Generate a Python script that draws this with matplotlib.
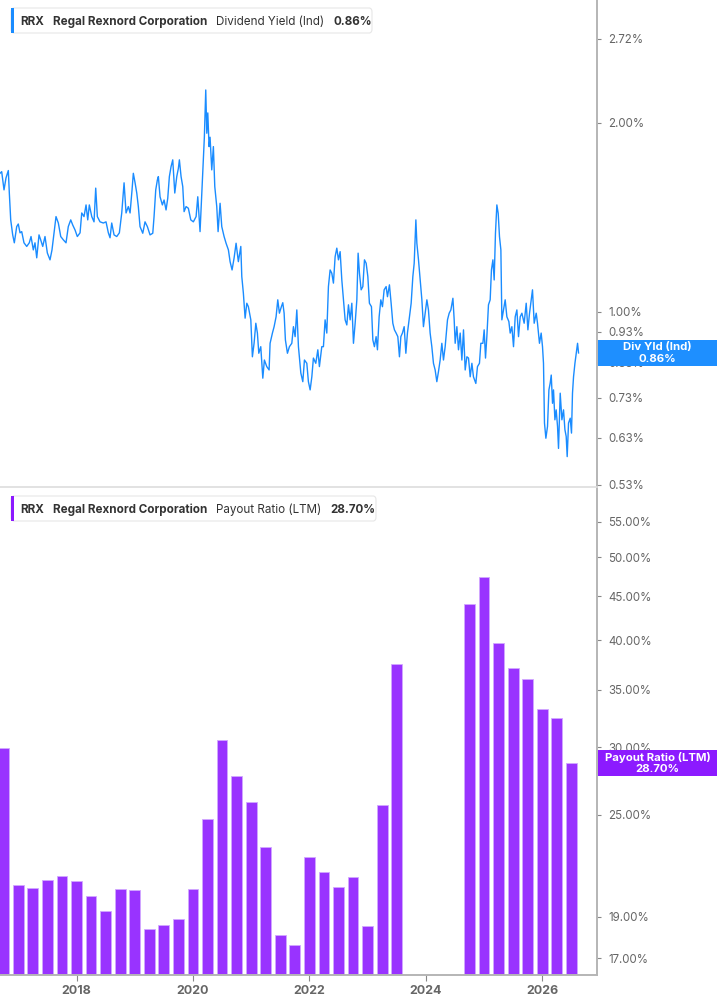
import matplotlib
matplotlib.use('Agg')
import matplotlib.pyplot as plt
from matplotlib.patches import Rectangle, FancyBboxPatch
from matplotlib.text import Annotation
from matplotlib.ticker import FixedLocator, NullLocator

plt.rcParams['font.family'] = ['Inter', 'DejaVu Sans']

# Dividend yield (Ind), %, decimal years
div_years = [
    2016.686, 2016.715, 2016.755, 2016.789, 2016.829, 2016.846, 2016.870, 2016.904, 2016.932, 2016.973,
    2017.000, 2017.030, 2017.059, 2017.098, 2017.145, 2017.189, 2017.219, 2017.258, 2017.287, 2017.317,
    2017.356, 2017.385, 2017.420, 2017.459, 2017.499, 2017.545, 2017.579, 2017.614, 2017.648, 2017.688,
    2017.729, 2017.774, 2017.820, 2017.859, 2017.901, 2017.935, 2017.975, 2018.014, 2018.061, 2018.090,
    2018.129, 2018.164, 2018.193, 2018.220, 2018.262, 2018.301, 2018.330, 2018.358, 2018.404, 2018.461,
    2018.507, 2018.547, 2018.576, 2018.605, 2018.645, 2018.691, 2018.736, 2018.777, 2018.817, 2018.851,
    2018.890, 2018.920, 2018.954, 2018.976, 2019.006, 2019.035, 2019.062, 2019.091, 2019.138, 2019.177,
    2019.217, 2019.263, 2019.310, 2019.332, 2019.361, 2019.389, 2019.406, 2019.435, 2019.475, 2019.504,
    2019.538, 2019.567, 2019.595, 2019.624, 2019.653, 2019.688, 2019.722, 2019.750, 2019.767, 2019.796,
    2019.825, 2019.848, 2019.882, 2019.921, 2019.963, 2020.007, 2020.054, 2020.083, 2020.122, 2020.152,
    2020.179, 2020.196, 2020.220, 2020.238, 2020.255, 2020.277, 2020.294, 2020.323, 2020.351, 2020.375,
    2020.409, 2020.432, 2020.466, 2020.495, 2020.535, 2020.569, 2020.609, 2020.638, 2020.672, 2020.706,
    2020.741, 2020.780, 2020.822, 2020.839, 2020.866, 2020.896, 2020.925, 2020.952, 2020.994, 2021.021,
    2021.050, 2021.080, 2021.107, 2021.131, 2021.165, 2021.200, 2021.227, 2021.268, 2021.308, 2021.325,
    2021.365, 2021.394, 2021.428, 2021.457, 2021.485, 2021.519, 2021.543, 2021.566, 2021.588, 2021.623,
    2021.657, 2021.698, 2021.726, 2021.755, 2021.784, 2021.812, 2021.853, 2021.887, 2021.915, 2021.956,
    2021.983, 2022.013, 2022.042, 2022.069, 2022.110, 2022.145, 2022.172, 2022.213, 2022.241, 2022.270,
    2022.299, 2022.327, 2022.356, 2022.385, 2022.413, 2022.442, 2022.471, 2022.499, 2022.528, 2022.557,
    2022.585, 2022.614, 2022.643, 2022.671, 2022.700, 2022.729, 2022.757, 2022.786, 2022.815, 2022.837,
    2022.860, 2022.889, 2022.918, 2022.946, 2022.975, 2023.004, 2023.031, 2023.066, 2023.090, 2023.117,
    2023.146, 2023.169, 2023.198, 2023.227, 2023.255, 2023.284, 2023.318, 2023.341, 2023.375, 2023.404,
    2023.433, 2023.461, 2023.490, 2023.519, 2023.547, 2023.571, 2023.598, 2023.628, 2023.657, 2023.684,
    2023.719, 2023.748, 2023.777, 2023.800, 2023.829, 2023.846, 2023.874, 2023.903, 2023.932, 2023.959,
    2023.988, 2024.018, 2024.045, 2024.074, 2024.103, 2024.131, 2024.160, 2024.189, 2024.217, 2024.246,
    2024.275, 2024.303, 2024.332, 2024.372, 2024.401, 2024.430, 2024.465, 2024.487, 2024.504, 2024.533,
    2024.561, 2024.590, 2024.619, 2024.647, 2024.676, 2024.705, 2024.733, 2024.762, 2024.791, 2024.818,
    2024.859, 2024.887, 2024.921, 2024.945, 2024.980, 2025.002, 2025.025, 2025.048, 2025.076, 2025.105,
    2025.127, 2025.152, 2025.174, 2025.196, 2025.220, 2025.243, 2025.265, 2025.289, 2025.306, 2025.334,
    2025.363, 2025.392, 2025.426, 2025.449, 2025.478, 2025.506, 2025.535, 2025.564, 2025.592, 2025.621,
    2025.650, 2025.689, 2025.724, 2025.753, 2025.781, 2025.810, 2025.832, 2025.861, 2025.896, 2025.918,
    2025.952, 2025.981, 2026.004, 2026.021, 2026.038, 2026.062, 2026.090, 2026.114, 2026.136, 2026.154,
    2026.176, 2026.193, 2026.217, 2026.239, 2026.262, 2026.279, 2026.308, 2026.337, 2026.365, 2026.389,
    2026.411, 2026.428, 2026.451, 2026.480, 2026.502, 2026.519, 2026.537, 2026.561, 2026.583, 2026.606,
    2026.623,
]
div_yield = [
    1.662, 1.672, 1.564, 1.634, 1.679, 1.547, 1.401, 1.326, 1.288, 1.367,
    1.380, 1.336, 1.342, 1.288, 1.271, 1.288, 1.318, 1.255, 1.288, 1.219,
    1.326, 1.302, 1.271, 1.318, 1.241, 1.210, 1.255, 1.336, 1.418, 1.385,
    1.318, 1.302, 1.288, 1.367, 1.401, 1.375, 1.350, 1.318, 1.336, 1.437,
    1.418, 1.480, 1.401, 1.480, 1.418, 1.391, 1.574, 1.418, 1.391, 1.385,
    1.391, 1.336, 1.312, 1.385, 1.326, 1.318, 1.336, 1.437, 1.605, 1.437,
    1.471, 1.437, 1.564, 1.662, 1.605, 1.546, 1.471, 1.367, 1.334, 1.391,
    1.367, 1.326, 1.334, 1.418, 1.564, 1.622, 1.642, 1.525, 1.480, 1.507,
    1.453, 1.516, 1.642, 1.703, 1.746, 1.546, 1.642, 1.693, 1.746, 1.642,
    1.583, 1.444, 1.471, 1.462, 1.401, 1.391, 1.418, 1.525, 1.342, 1.546,
    1.767, 1.897, 2.256, 1.925, 2.074, 1.833, 1.897, 1.683, 1.833, 1.583,
    1.471, 1.342, 1.489, 1.367, 1.318, 1.286, 1.255, 1.202, 1.166, 1.217,
    1.286, 1.202, 1.271, 1.138, 1.071, 0.977, 1.032, 1.019, 0.971, 0.848,
    0.891, 0.959, 0.925, 0.859, 0.880, 0.784, 0.838, 0.818, 0.808, 0.891,
    0.925, 0.947, 0.982, 1.045, 0.995, 1.019, 1.034, 0.995, 0.902, 0.859,
    0.880, 0.891, 0.947, 0.913, 1.007, 0.880, 0.799, 0.774, 0.838, 0.828,
    0.774, 0.751, 0.788, 0.844, 0.828, 0.870, 0.818, 0.880, 0.880, 0.971,
    0.925, 1.097, 1.166, 1.152, 1.111, 1.224, 1.263, 1.210, 1.247, 1.124,
    1.045, 0.971, 0.953, 1.026, 0.971, 1.032, 0.891, 0.959, 1.045, 1.240,
    1.152, 1.084, 1.097, 1.210, 1.195, 1.138, 1.032, 1.019, 0.902, 0.880,
    0.913, 0.870, 0.982, 1.045, 1.019, 1.084, 1.097, 1.057, 1.104, 1.032,
    0.959, 0.936, 0.925, 0.913, 0.848, 0.913, 0.925, 0.947, 0.859, 0.925,
    0.982, 1.032, 1.138, 1.195, 1.401, 1.286, 1.210, 1.124, 1.045, 0.947,
    0.995, 1.045, 1.007, 0.925, 0.880, 0.828, 0.808, 0.774, 0.803, 0.838,
    0.891, 0.838, 0.880, 0.971, 0.995, 1.007, 1.051, 0.971, 0.891, 0.947,
    0.870, 0.925, 0.838, 0.936, 0.808, 0.848, 0.844, 0.788, 0.828, 0.788,
    0.769, 0.818, 0.828, 0.891, 0.891, 0.936, 0.844, 0.913, 1.026, 1.045,
    1.166, 1.210, 1.124, 1.334, 1.480, 1.435, 1.318, 1.255, 0.971, 1.007,
    1.045, 0.982, 0.965, 0.925, 0.947, 0.880, 0.982, 1.007, 0.913, 0.982,
    0.995, 0.959, 1.032, 0.936, 0.995, 1.045, 1.084, 0.959, 0.995, 0.959,
    0.891, 0.925, 0.880, 0.828, 0.665, 0.629, 0.657, 0.751, 0.770, 0.793,
    0.715, 0.751, 0.673, 0.698, 0.657, 0.606, 0.742, 0.673, 0.698, 0.649,
    0.633, 0.588, 0.665, 0.677, 0.641, 0.742, 0.788, 0.828, 0.859, 0.891,
    0.860,
]

# Payout ratio (LTM), %, quarterly
payout_years = [
    2016.75, 2017.00, 2017.25, 2017.50, 2017.75, 2018.00, 2018.25, 2018.50, 2018.75, 2019.00,
    2019.25, 2019.50, 2019.75, 2020.00, 2020.25, 2020.50, 2020.75, 2021.00, 2021.25, 2021.50,
    2021.75, 2022.00, 2022.25, 2022.50, 2022.75, 2023.00, 2023.25, 2023.50,
    2024.75, 2025.00, 2025.25, 2025.50, 2025.75, 2026.00, 2026.25, 2026.50,
]
payout_ratio = [
    29.9, 20.7, 20.5, 21.0, 21.2, 20.9, 20.1, 19.3, 20.45, 20.4,
    18.4, 18.6, 18.9, 20.45, 24.7, 30.6, 27.75, 25.9, 22.9, 18.1,
    17.6, 22.3, 21.4, 20.6, 21.15, 18.55, 25.65, 37.5,
    44.1, 47.4, 39.7, 37.1, 36.0, 33.2, 32.4, 28.7,
]

year_ticks = [2018, 2020, 2022, 2024, 2026]
div_ticks = [0.53, 0.63, 0.73, 0.83, 0.93, 1.00, 2.00, 2.72]
payout_ticks = [17, 19, 25, 30, 35, 40, 45, 50, 55]

BLUE = '#1a8cff'
PURPLE = '#9933ff'
PURPLE_TAG = '#8c1aff'
TEXT = '#333333'
TICK = '#666666'
SPINE = '#b5b5b5'

W, H = 717, 1005
fig = plt.figure(figsize=(W / 100, H / 100), dpi=100)


def fx(px):
    return px / W


def fy(py):
    return 1 - py / H


ax1 = fig.add_axes([0, fy(487), fx(597), fy(0) - fy(487)])
ax2 = fig.add_axes([0, fy(975), fx(597), fy(489) - fy(975)])

for ax in (ax1, ax2):
    ax.set_xlim(2016.686, 2026.94)
    ax.set_yscale('log')
    ax.yaxis.tick_right()
    for s in ('left', 'top'):
        ax.spines[s].set_visible(False)
    ax.spines['right'].set_color(SPINE)
    ax.spines['right'].set_linewidth(1.4)
    ax.tick_params(axis='y', which='major', length=3, width=0.8, color='#888888',
                   labelsize=8.3, labelcolor=TICK, pad=5)
    ax.yaxis.set_minor_locator(NullLocator())

# dividend yield
ax1.plot(div_years, div_yield, color=BLUE, lw=1.0, solid_joinstyle='round')
ax1.set_ylim(0.526, 3.138)
ax1.yaxis.set_major_locator(FixedLocator(div_ticks))
ax1.set_yticklabels([f'{v:.2f}%' for v in div_ticks])
ax1.spines['bottom'].set_color('#dddddd')
ax1.spines['bottom'].set_linewidth(1.2)
ax1.set_xticks([])

# payout ratio
ax2.bar(payout_years, [v - 10 for v in payout_ratio], bottom=10, width=0.185,
        color=PURPLE, edgecolor='#d2a8ff', linewidth=0.6)
ax2.set_ylim(16.24, 60.08)
ax2.yaxis.set_major_locator(FixedLocator(payout_ticks))
ax2.set_yticklabels([f'{v:.2f}%' for v in payout_ticks])
ax2.spines['bottom'].set_color(SPINE)
ax2.spines['bottom'].set_linewidth(1.4)
ax2.set_xticks(year_ticks)
ax2.set_xticklabels([str(y) for y in year_ticks])
ax2.tick_params(axis='x', length=4, width=0.8, color='#888888', labelsize=9,
                labelcolor=TICK, pad=3)
for lab in ax2.get_xticklabels():
    lab.set_fontweight('bold')


def legend_row(y_top, y_bot, box_right, accent, metric, value):
    box = FancyBboxPatch((fx(11), fy(y_bot)), fx(box_right) - fx(11), fy(y_top) - fy(y_bot),
                         boxstyle='round,pad=0,rounding_size=0.004', transform=fig.transFigure,
                         facecolor='white', edgecolor='#e6e6e6', linewidth=0.8, zorder=5)
    fig.add_artist(box)
    fig.add_artist(Rectangle((fx(11), fy(y_bot)), fx(2.5), fy(y_top) - fy(y_bot),
                             transform=fig.transFigure, facecolor=accent, edgecolor='none', zorder=6))
    yc = fy((y_top + y_bot) / 2)
    fs = 8.4
    prev = fig.text(fx(20), yc, 'RRX', fontsize=fs, fontweight='bold', color=TEXT,
                    va='center_baseline', zorder=7)
    for txt, wt in [('Regal Rexnord Corporation', 'bold'), (metric, 'normal'), (value, 'bold')]:
        prev = fig.add_artist(Annotation(
            txt, xy=(1, 0), xycoords=prev, xytext=(6.5, 0), textcoords='offset points',
            va='bottom', ha='left', fontsize=fs, fontweight=wt, color=TEXT, zorder=7))


legend_row(8, 33, 372, BLUE, 'Dividend Yield (Ind)', '0.86%')
legend_row(496, 521, 376, PURPLE_TAG, 'Payout Ratio (LTM)', '28.70%')


def value_tag(ax, value, label, color, height_px=26):
    # last-value box on the right axis, centred at the value's position
    disp = ax.transData.transform((ax.get_xlim()[1], value))
    yc = fig.transFigure.inverted().transform(disp)[1]
    h = height_px / H
    fig.add_artist(Rectangle((fx(597.5), yc - h / 2), 1 - fx(597.5), h, transform=fig.transFigure,
                             facecolor=color, edgecolor='none', zorder=8))
    xc = fx(657.5)
    fig.text(xc, yc + h * 0.22, label, ha='center', va='center', fontsize=8.2,
             fontweight='bold', color='white', zorder=9)
    fig.text(xc, yc - h * 0.22, f'{value:.2f}%', ha='center', va='center', fontsize=8.2,
             fontweight='bold', color='white', zorder=9)


value_tag(ax1, div_yield[-1], 'Div Yld (Ind)', '#1e8fff')
value_tag(ax2, payout_ratio[-1], 'Payout Ratio (LTM)', PURPLE_TAG)

fig.savefig('out.png', dpi=100)
